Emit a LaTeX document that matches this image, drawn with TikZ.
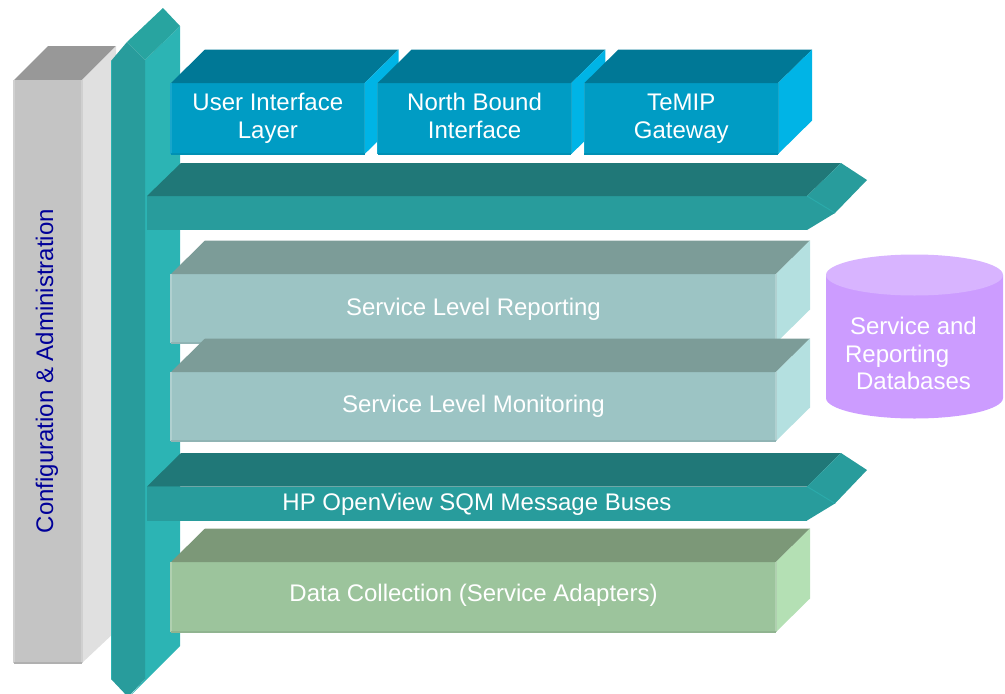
\documentclass[tikz,border=0pt]{standalone}
\usepackage{fontspec}
\setmainfont{Liberation Sans}
\usetikzlibrary{positioning,calc}

\definecolor{greyfront}{HTML}{C4C4C4}
\definecolor{greytop}{HTML}{989898}
\definecolor{greyside}{HTML}{E0E0E0}
\definecolor{tealleft}{HTML}{289C9C}
\definecolor{tealright}{HTML}{2CB4B4}
\definecolor{tealcap}{HTML}{28A4A0}
\definecolor{tealtop}{HTML}{207878}
\definecolor{bluefront}{HTML}{009CC4}
\definecolor{bluetop}{HTML}{007896}
\definecolor{blueside}{HTML}{00B4E6}
\definecolor{slfront}{HTML}{9CC4C4}
\definecolor{sltop}{HTML}{7C9C98}
\definecolor{slside}{HTML}{B4E0E0}
\definecolor{dcfront}{HTML}{9CC49C}
\definecolor{dctop}{HTML}{7C9878}
\definecolor{dcside}{HTML}{B4E0B4}
\definecolor{dbbody}{HTML}{CC9CFF}
\definecolor{dbtop}{HTML}{D8B4FF}
\definecolor{labelblue}{HTML}{000099}

% top and right faces of a slab, from the anchors of its front node
\newcommand{\slabfaces}[3]{
	\fill[#2] (#1.north west) -- ++(34,-33.5) -- ($(#1.north east)+(34,-33.5)$) -- (#1.north east) -- cycle;
	\fill[#3] (#1.north east) -- ++(34,-33.5) -- ($(#1.south east)+(34,-33.5)$) -- (#1.south east) -- cycle;
}
% the thin lines along the edges of a front node
\newcommand{\slabedges}[3]{
	\draw[#2, line width=1.2pt] (#1.north west) -- (#1.south west);
	\draw[#2, line width=1.2pt] (#1.north east) -- (#1.south east);
	\draw[#3, line width=1.2pt] (#1.south west) -- (#1.south east);
}
% text moved up or down inside its node
\newcommand{\nudged}[2]{\raisebox{#1}[\height][\depth]{#2}}

\begin{document}
\begin{tikzpicture}[x=1pt,y=-1pt,
	front/.style={inner sep=0pt, outer sep=0pt, text=white, align=center, font=\fontsize{24}{28}\selectfont},
	blueslab/.style={front, fill=bluefront, minimum width=193.7pt, minimum height=71pt},
	slslab/.style={front, fill=slfront, minimum width=605pt, minimum height=69pt},
	dcslab/.style={front, fill=dcfront, minimum width=605pt, minimum height=70pt},
	busslab/.style={front, fill=tealleft, minimum width=660pt, minimum height=34pt}]
	\useasboundingbox (0,0) rectangle (1005,694);

	% config column
	\fill[greytop] (14,80) -- (48,46) -- (116,46) -- (82,80) -- cycle;
	\fill[greyside] (82,80) -- (116,46) -- (116,631) -- (82,663) -- cycle;
	\node[front, fill=greyfront, minimum width=68pt, minimum height=583pt] (config) at (48,371.5) {};
	\slabedges{config}{greyfront!80!white}{greyfront!90!black}
	\node[rotate=90, text=labelblue, font=\fontsize{24}{28}\selectfont] (configlabel) at (47,371) {Configuration \& Administration};

	% vertical bus
	\fill[tealright] (145,60) -- (180,26) -- (180,646) -- (128,698) -- (145,679) -- cycle;
	\fill[tealcap] (127,42) -- (163,8) -- (180,26) -- (145,60) -- cycle;
	\fill[tealleft] (111,61) -- (127,42) -- (145,60) -- (145,679) -- (128,697) -- (111,679) -- cycle;
	\draw[tealright!90!tealleft, line width=1.2pt] (111.5,61) -- (111.5,679);

	% top layer
	\node[blueslab] (ui) at (267.85,118.5) {User Interface\\Layer};
	\slabfaces{ui}{bluetop}{blueside}
	\node[blueslab, right=13pt of ui] (nbi) {North Bound\\Interface\vphantom{y}};
	\slabfaces{nbi}{bluetop}{blueside}
	\node[blueslab, right=13pt of nbi] (temip) {TeMIP\\Gateway};
	\slabfaces{temip}{bluetop}{blueside}
	\slabedges{ui}{bluefront!90!white}{bluefront!92!black}
	\slabedges{nbi}{bluefront!90!white}{bluefront!92!black}
	\slabedges{temip}{bluefront!90!white}{bluefront!92!black}

	% upper bus
	\node[busslab] (busa) at (477,213) {};
	\fill[tealtop] (busa.north west) -- (181,163) -- (841,163) -- (busa.north east) -- cycle;
	\fill[tealleft] (busa.north east) -- (835,213) -- (busa.south east) -- cycle;
	\fill[tealleft] (busa.north east) -- (841,163) -- (867,180) -- (835,213) -- cycle;
	\draw[tealright!60!tealleft, line width=1pt] (busa.north east) -- (835,213);

	% service level
	\node[slslab] (report) at (473.5,308.5) {\nudged{-1pt}{Service Level Reporting}};
	\slabfaces{report}{sltop}{slside}
	\slabedges{report}{slfront!80!white}{slfront!92!black}
	\node[slslab] (monitor) at (473.5,406.5) {Service Level Monitoring};
	\slabfaces{monitor}{sltop}{slside}
	\slabedges{monitor}{slfront!80!white}{slfront!92!black}

	% lower bus
	\node[busslab] (busb) at (477,503.5) {\nudged{-1pt}{HP OpenView SQM Message Buses}};
	\fill[tealtop] (busb.north west) -- (181,453) -- (841,453) -- (busb.north east) -- cycle;
	\fill[tealleft] (busb.north east) -- (835,503.5) -- (busb.south east) -- cycle;
	\fill[tealleft] (busb.north east) -- (841,453) -- (867,470) -- (835,503.5) -- cycle;
	\draw[tealright!60!tealleft, line width=1pt] (busb.north east) -- (835,503.5);

	% data collection
	\node[dcslab] (collect) at (473.5,597) {\nudged{2pt}{Data Collection (Service Adapters)}};
	\slabfaces{collect}{dctop}{dcside}
	\slabedges{collect}{dcfront!80!white}{dcfront!92!black}

	% databases
	\fill[dbbody] (826,275) -- (826,398) arc[start angle=180, end angle=360, x radius=88.5pt, y radius=20.5pt] -- (1003,275) -- cycle;
	\fill[dbtop] (914.5,275) ellipse[x radius=88.5pt, y radius=20.5pt];
	\node[text=white, align=left, font=\fontsize{24}{27.5}\selectfont] (db) at (911,353.5) {\hspace*{5pt}Service and\\Reporting\\\hspace*{11pt}Databases};
\end{tikzpicture}
\end{document}
